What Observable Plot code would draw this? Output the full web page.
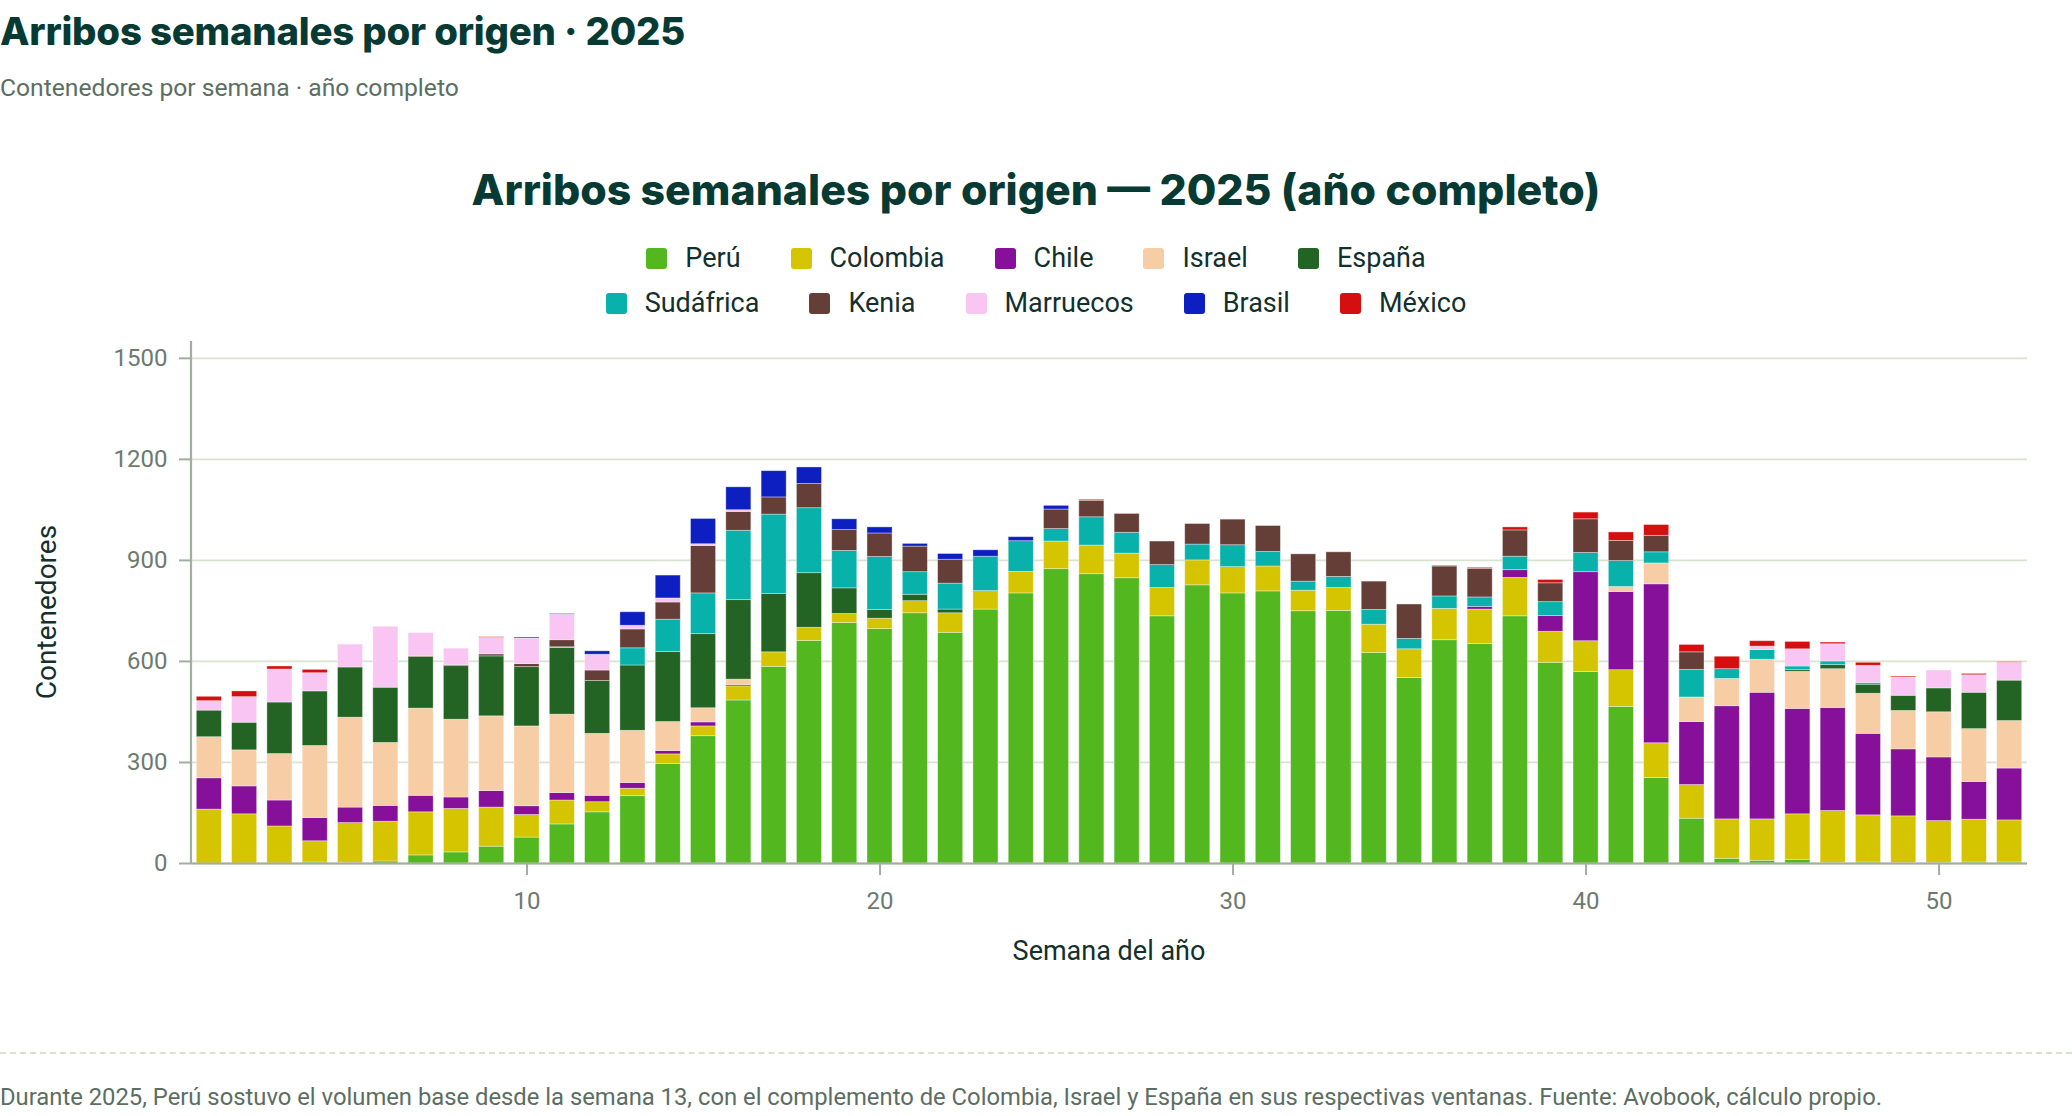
<!DOCTYPE html>
<html lang="es">
<head>
<meta charset="utf-8">
<script src="https://cdn.jsdelivr.net/npm/d3@7"></script>
<script src="https://cdn.jsdelivr.net/npm/@observablehq/plot@0.6"></script>
<style>
  html, body { margin: 0; padding: 0; background: #ffffff; }
  body { width: 2072px; height: 1116px; position: relative; overflow: hidden; font-family: Roboto, "Noto Sans", sans-serif; }
  .abs { position: absolute; white-space: nowrap; }
  #title { left: 0; top: 8px; font: 800 32px Inter, "Open Sans", sans-serif; color: #083a34; letter-spacing: -0.2px; }
  #subtitle { left: 0; top: 73px; font: 400 23px Roboto, sans-serif; color: #5b6e62; }
  #ctitle { left: 0; width: 2072px; top: 164px; text-align: center; font: 800 36px Inter, "Open Sans", sans-serif; color: #083a34; }
  .legrow { position: absolute; left: 0; width: 2072px; display: flex; justify-content: center; gap: 50px; font: 400 27px Roboto, sans-serif; color: #12302c; }
  .item { display: flex; align-items: center; gap: 18px; }
  .sw { width: 21px; height: 21px; border-radius: 3px; }
  #chart { position: absolute; left: 0; top: 330px; }
  #ylab { left: 46px; top: 612px; transform: translate(-50%, -50%) rotate(-90deg); font: 400 28px Roboto, sans-serif; color: #12302c; }
  #xlab { left: 1109px; top: 951px; transform: translate(-50%, -50%); font: 400 27px Roboto, sans-serif; color: #12302c; }
  #rule { position: absolute; left: 0; width: 2072px; top: 1052px; border-top: 2px dashed #d9e0d0; }
  #caption { left: 0; top: 1083px; font: 400 23px Roboto, sans-serif; color: #5b6e62; }
</style>
</head>
<body>
<div id="title" class="abs">Arribos semanales por origen · 2025</div>
<div id="subtitle" class="abs">Contenedores por semana · año completo</div>
<div id="ctitle" class="abs">Arribos semanales por origen — 2025 (año completo)</div>
<div id="leg1" class="legrow" style="top:242px"></div>
<div id="leg2" class="legrow" style="top:287px"></div>
<div id="chart"></div>
<div id="ylab" class="abs">Contenedores</div>
<div id="xlab" class="abs">Semana del año</div>
<div id="rule"></div>
<div id="caption" class="abs">Durante 2025, Perú sostuvo el volumen base desde la semana 13, con el complemento de Colombia, Israel y España en sus respectivas ventanas. Fuente: Avobook, cálculo propio.</div>
<script>
// ---- categories ----
const weeks = [1,2,3,4,5,6,7,8,9,10,11,12,13,14,15,16,17,18,19,20,21,22,23,24,25,26,
               27,28,29,30,31,32,33,34,35,36,37,38,39,40,41,42,43,44,45,46,47,48,49,50,51,52];
const origins = ["Perú","Colombia","Chile","Israel","España","Sudáfrica","Kenia","Marruecos","Brasil","México"];
const colors  = ["#53b81f","#d5c400","#86109a","#f7cda5","#236324","#08b2ab","#653f37","#f9c5f3","#0e1fc2","#d50f0f"];
const yTicks = [0,300,600,900,1200,1500];
const xTicks = [10,20,30,40,50];

// ---- series values (containers per week, weeks 1..52) ----
const peru      = [0,0,0,3,2,6,24,33,50,77,116,152,200,296,378,484,584,661,714,696,743,685,754,802,874,859,
                   847,734,826,802,808,749,750,625,551,663,652,734,596,569,465,254,133,14,8,11,2,3,1,2,3,3];
const colombia  = [160,146,110,63,118,118,128,129,116,67,71,30,22,28,29,42,43,39,27,31,36,58,52,64,82,85,
                   73,84,74,78,74,61,68,84,85,93,102,114,92,91,109,103,100,117,123,135,154,140,139,124,127,125];
const chile     = [93,83,77,69,46,47,49,34,49,26,22,19,17,10,12,4,0,0,0,0,0,0,0,0,0,0,
                   0,0,0,0,0,0,0,0,0,0,8,23,47,205,232,472,187,336,376,313,306,242,199,189,112,154];
const israel    = [122,107,138,214,267,187,259,231,222,237,233,184,155,86,42,16,0,0,0,0,0,0,0,0,0,0,
                   0,0,0,0,0,0,0,0,0,0,0,0,0,0,15,62,73,81,98,110,115,119,114,134,157,141];
const espana    = [79,82,153,162,149,164,153,159,178,176,198,157,194,208,220,236,173,162,76,26,19,11,3,0,0,0,
                   0,0,0,0,0,0,0,0,0,0,0,0,0,0,0,0,0,0,0,5,12,27,45,71,108,120];
const sudafrica = [0,0,0,0,0,0,0,0,0,0,2,0,51,96,121,206,236,193,111,157,67,77,102,91,37,84,
                   62,68,47,65,43,27,33,44,31,37,28,40,41,57,77,33,82,29,29,11,11,5,0,0,0,0];
const kenia     = [0,0,0,0,0,0,3,3,6,9,21,31,56,51,141,56,51,72,62,70,76,71,0,0,58,49,
                   56,70,61,76,77,81,73,84,102,89,85,78,56,100,60,49,52,0,0,0,0,0,0,0,0,0];
const marruecos = [28,76,98,54,68,181,68,49,49,76,76,47,11,12,5,5,0,0,0,0,0,0,0,0,0,0,
                   0,0,0,0,0,0,0,0,0,0,0,0,0,0,0,0,0,0,10,51,51,51,54,53,52,53];
const brasil    = [0,0,0,0,0,0,0,0,0,3,2,10,40,68,75,68,78,49,32,18,8,17,19,12,11,0,
                   0,0,0,0,0,0,0,0,0,0,0,0,0,0,0,0,0,0,0,0,0,0,0,0,0,0];
const mexico    = [13,17,9,10,0,0,0,0,2,0,0,0,0,0,0,0,0,0,0,0,0,0,0,0,0,3,
                   1,0,0,0,0,0,0,0,0,2,3,9,10,20,25,32,22,37,16,22,5,9,3,0,4,2];

const seriesValues = [peru, colombia, chile, israel, espana, sudafrica, kenia, marruecos, brasil, mexico];

// long table for Plot
const rows = [];
origins.forEach((o, i) => {
  weeks.forEach((w, j) => {
    const v = seriesValues[i][j];
    if (v > 0) rows.push({week: w, origin: o, value: v});
  });
});

// legend
function legendRow(el, names) {
  names.forEach(n => {
    const it = document.createElement("div"); it.className = "item";
    const sw = document.createElement("div"); sw.className = "sw";
    sw.style.background = colors[origins.indexOf(n)];
    const tx = document.createElement("span"); tx.textContent = n;
    it.appendChild(sw); it.appendChild(tx); el.appendChild(it);
  });
}
legendRow(document.getElementById("leg1"), origins.slice(0, 5));
legendRow(document.getElementById("leg2"), origins.slice(5));

const axisColor = "#a2ada1";
const chart = Plot.plot({
  width: 2072,
  height: 600,
  marginLeft: 191,
  marginRight: 45,
  marginTop: 11,
  marginBottom: 67,
  style: {fontFamily: "Roboto, sans-serif", fontSize: "24px", background: "transparent", overflow: "visible"},
  x: {type: "band", domain: weeks, paddingInner: 0.29, paddingOuter: 0.15, round: false, label: null},
  y: {domain: [0, 1550], label: null},
  color: {domain: origins, range: colors},
  marks: [
    Plot.gridY({ticks: yTicks, stroke: "#d9e2cf", strokeOpacity: 1, strokeWidth: 1.8}),
    Plot.barY(rows, {x: "week", y: "value", fill: "origin", order: origins,
                     stroke: "#ffffff", strokeWidth: 0.8, strokeOpacity: 0.45}),
    Plot.ruleY([0], {stroke: axisColor, strokeWidth: 2.2}),
    Plot.axisY({ticks: yTicks, tickSize: 12, tickPadding: 12, label: null, tickFormat: d3.format("d"),
                stroke: axisColor, strokeWidth: 2, strokeOpacity: 1, fill: "#6c7a6f", fontSize: 24}),
    Plot.axisX({ticks: xTicks, tickSize: 12, tickPadding: 16, label: null,
                stroke: axisColor, strokeWidth: 2, strokeOpacity: 1, fill: "#6c7a6f", fontSize: 24})
  ]
});

// vertical axis line along the left edge of the frame, from the plot's own scales
const sx = chart.scale("x"), sy = chart.scale("y");
d3.select(chart).append("line")
  .attr("x1", sx.range[0]).attr("x2", sx.range[0])
  .attr("y1", sy.range[0]).attr("y2", sy.range[1])
  .attr("stroke", axisColor).attr("stroke-width", 2.2);

document.getElementById("chart").appendChild(chart);

// fit heading widths to the reference layout
function fit(id, target) {
  const el = document.getElementById(id);
  const r = document.createRange(); r.selectNodeContents(el);
  const w = r.getBoundingClientRect().width;
  const fs = parseFloat(getComputedStyle(el).fontSize);
  if (w > 0) el.style.fontSize = (fs * target / w).toFixed(2) + "px";
}
fit("title", 684);
fit("ctitle", 1129);
fit("subtitle", 459);
fit("caption", 1883);
</script>
</body>
</html>
